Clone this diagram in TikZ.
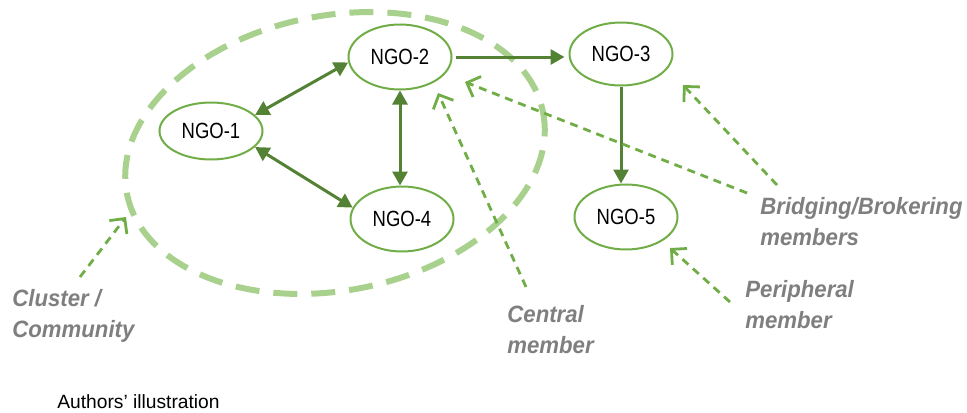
\documentclass[tikz,border=0pt]{standalone}
\usepackage{fontspec}
\setmainfont{Liberation Sans}
\newfontfamily\nodefont{Liberation Sans}[FakeStretch=0.84]
\newfontfamily\notefont{Liberation Sans}[FakeStretch=0.94]
\usetikzlibrary{arrows.meta,shapes.geometric,calc}
\definecolor{ngoline}{HTML}{70AD47}
\definecolor{linkgreen}{HTML}{548235}
\definecolor{clustergreen}{HTML}{A9D18E}
\definecolor{notegray}{HTML}{7F7F7F}
\tikzset{
  ngo/.style={ellipse, draw=ngoline, line width=1pt, fill=white,
    minimum width=51.5pt, minimum height=32.5pt, inner sep=0pt,
    font=\nodefont\fontsize{11}{13}\selectfont},
  link/.style={draw=linkgreen, line width=1.5pt,
    {Triangle[length=7pt,width=7.5pt]}-{Triangle[length=7pt,width=7.5pt]}},
  onelink/.style={draw=linkgreen, line width=1.5pt,
    -{Triangle[length=7pt,width=7.5pt]}},
  pointer/.style={draw=ngoline, line width=1.4pt, dash pattern=on 4pt off 3pt,
    -{Straight Barb[length=5.5pt,width=11pt]}},
  note/.style={anchor=base west, align=left, inner sep=0pt, text=notegray,
    font=\notefont\bfseries\itshape\fontsize{11.8}{15.5}\selectfont},
  cluster/.style={draw=clustergreen, line width=3pt, dash pattern=on 12pt off 7pt},
}
\begin{document}
\begin{tikzpicture}[x=0.5pt,y=-0.5pt]
  \useasboundingbox (0,0) rectangle (967,412);

  % community outline
  \draw[cluster, rotate around={11:(335,153)}] (335,153) ellipse [x radius=212, y radius=137.5];

  % organisations
  \node[ngo, minimum height=28.5pt] (n1) at (211,131) {NGO-1};
  \node[ngo] (n2) at (400,57) {NGO-2};
  \node[ngo, minimum height=31.5pt] (n3) at (621,54) {NGO-3};
  \node[ngo] (n4) at (402,219) {NGO-4};
  \node[ngo] (n5) at (626,217) {NGO-5};

  % ties between organisations
  \draw[link] (n1.20) -- (n2.186);
  \draw[link] (n1.-20) -- (n4.167);
  \draw[link] (n2.south) -- (n2.south |- n4.north);
  \draw[onelink, shorten >=2pt] ($(n2.east)+(3,0)$) -- (n2.east -| n3.west);
  \draw[onelink] (n3.south) -- (n3.south |- n5.north);

  % annotations (placed by the baseline of their last line)
  \node[note] (lcluster) at (12,337) {Cluster /\\Community};
  \node[note] (lcentral) at (507,353) {Central\\member};
  \node[note] (lbridge) at (760,245) {Bridging/Brokering\\members};
  \node[note] (lperiph) at (745,328) {Peripheral\\member};
  \node[anchor=base west, inner sep=0pt, font=\fontsize{9.6}{11}\selectfont] (credit) at (57,408) {Authors’ illustration};

  % pointer ends
  \coordinate (clfrom) at (80,277);
  \coordinate (clto) at (126,217);
  \coordinate (cefrom) at (526,287);
  \coordinate (ceto) at (438,93);
  \coordinate (brfromA) at (747,193);
  \coordinate (brtoA) at (465,82);
  \coordinate (brfromB) at (777,185);
  \coordinate (brtoB) at (683,85);
  \coordinate (pefrom) at (730,302);
  \coordinate (peto) at (670,248);

  \draw[pointer] (clfrom) -- (clto);
  \draw[pointer] (cefrom) -- (ceto);
  \draw[pointer] (brfromA) -- (brtoA);
  \draw[pointer] (brfromB) -- (brtoB);
  \draw[pointer] (pefrom) -- (peto);
\end{tikzpicture}
\end{document}
